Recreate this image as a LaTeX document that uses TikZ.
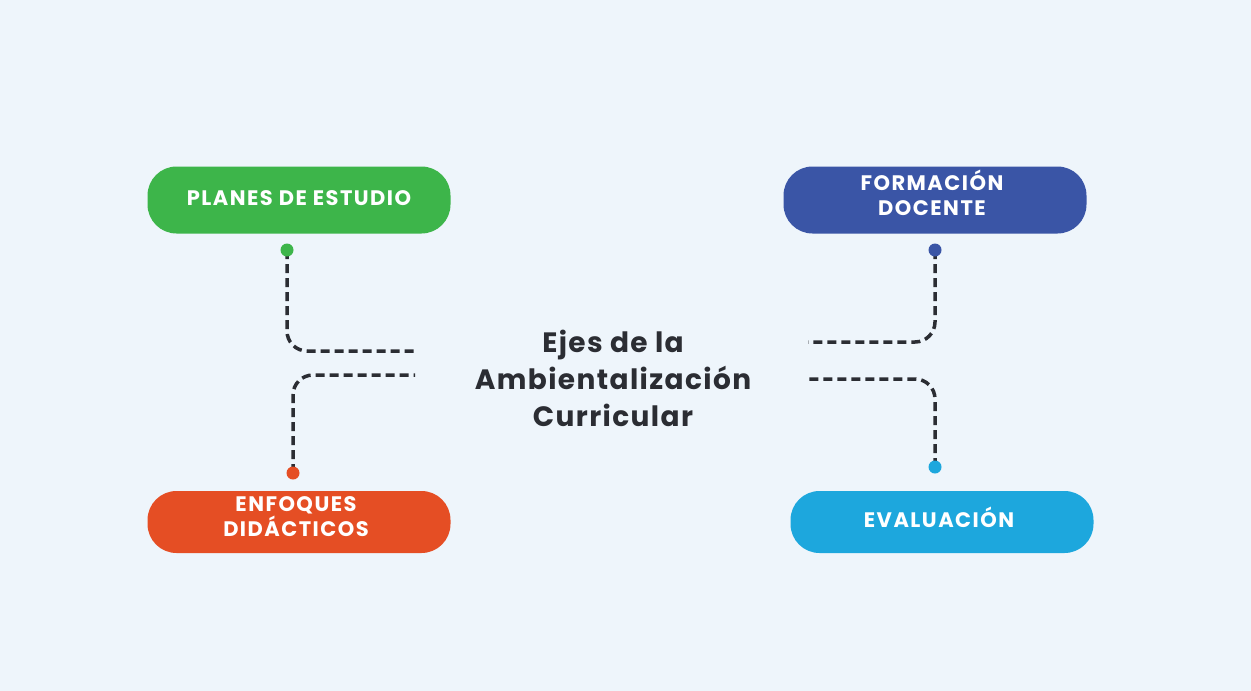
\documentclass[tikz,border=0pt]{standalone}
\usepackage{fontspec}
\setmainfont{Poppins}[BoldFont={Poppins Bold}]
\newfontfamily\pillfont{Poppins Bold}[LetterSpace=7]
\newfontfamily\centfont{Poppins Bold}[LetterSpace=5]
\definecolor{bg}{HTML}{EEF5FB}
\definecolor{cgreen}{HTML}{3DB54A}
\definecolor{cblue}{HTML}{3A55A6}
\definecolor{corange}{HTML}{E54E24}
\definecolor{ccyan}{HTML}{1DA7DD}
\definecolor{ink}{HTML}{2B2D33}
\begin{document}
\begin{tikzpicture}[x=1pt,y=-1pt,
  pill/.style={rounded corners=29pt, minimum width=303pt, minimum height=67pt, inner sep=0pt},
  pilltext/.style={text=white, font=\pillfont\fontsize{21}{25}\selectfont, align=center, inner sep=0pt},
  dotmark/.style={circle, inner sep=0pt, minimum size=13pt},
  conn/.style={draw=ink, line width=3.5pt, dash pattern=on 9pt off 5pt, rounded corners=20pt}]
\fill[bg] (0,0) rectangle (1251,691);
\useasboundingbox (0,0) rectangle (1251,691);
% boxes
\node[pill, fill=cgreen] (planes) at (299,200) {};
\node[pill, fill=cblue] (form) at (935,200) {};
\node[pill, fill=corange, minimum height=62pt] (enf) at (299,522) {};
\node[pill, fill=ccyan, minimum height=62pt] (eval) at (942,522) {};
\node[pilltext] (planesT) at (299,198) {PLANES DE ESTUDIO};
\node[pilltext] (formT) at (932,193) {FORMACIÓN\\DOCENTE};
\node[pilltext] (enfT) at (296,517) {ENFOQUES\\DIDÁCTICOS};
\node[pilltext] (evalT) at (939,517) {EVALUACIÓN};
% center
\node[text=ink, font=\centfont\fontsize{28}{37}\selectfont, align=center] (center) at (613,378) {Ejes de la\\Ambientalización\\Curricular};
% connector ends
\coordinate (gend) at (415,351);
\coordinate (oend) at (415,375);
\coordinate (bend) at (808,342);
\coordinate (cend) at (808,379);
% dots (positions)
\coordinate (gd) at (287,250);
\coordinate (od) at (293,473);
\coordinate (bd) at (935,250);
\coordinate (cd) at (935,467);
\draw[conn] (gd) |- (gend);
\draw[conn] (od) |- (oend);
\draw[conn] (bd) |- (bend);
\draw[conn] (cd) |- (cend);
\node[dotmark, fill=cgreen] (gdot) at (gd) {};
\node[dotmark, fill=corange] (odot) at (od) {};
\node[dotmark, fill=cblue] (bdot) at (bd) {};
\node[dotmark, fill=ccyan] (cdot) at (cd) {};
\end{tikzpicture}
\end{document}
